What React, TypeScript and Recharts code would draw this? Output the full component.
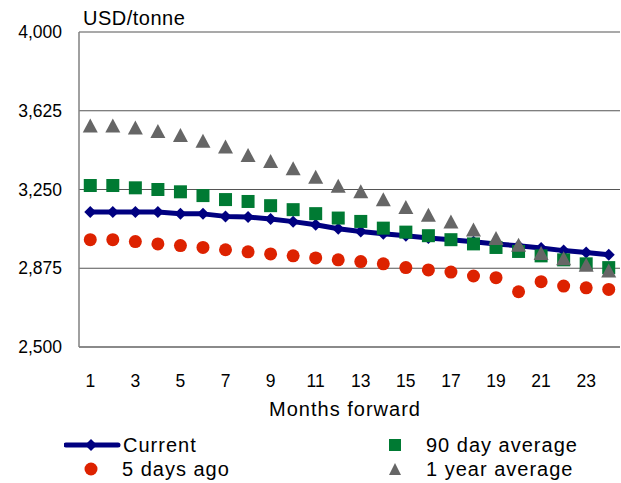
import { CartesianGrid, ComposedChart, Line, XAxis, YAxis } from "recharts";

const months = [1, 2, 3, 4, 5, 6, 7, 8, 9, 10, 11, 12, 13, 14, 15, 16, 17, 18, 19, 20, 21, 22, 23, 24];
const current = [3143, 3143, 3143, 3143, 3134, 3134, 3122, 3119, 3110, 3097, 3082, 3063, 3050, 3039, 3030, 3019, 3011, 3001, 2991, 2982, 2971, 2959, 2950, 2939];
const fiveDaysAgo = [3011, 3011, 3002, 2991, 2983, 2974, 2963, 2953, 2943, 2934, 2924, 2915, 2907, 2896, 2878, 2867, 2857, 2838, 2830, 2763, 2811, 2790, 2782, 2774];
const ninetyDayAvg = [3269, 3269, 3258, 3250, 3239, 3221, 3202, 3193, 3173, 3154, 3135, 3114, 3098, 3066, 3047, 3030, 3011, 2991, 2974, 2955, 2934, 2915, 2896, 2878];
const oneYearAvg = [3550, 3550, 3541, 3524, 3505, 3477, 3450, 3410, 3381, 3346, 3306, 3263, 3237, 3199, 3162, 3125, 3093, 3055, 3014, 2982, 2943, 2918, 2887, 2859];
const yTicks = [2500, 2875, 3250, 3625, 4000];

const NAVY = "#000080";
const RED = "#dd2200";
const GREEN = "#007a33";
const GRAY = "#666666";
const FONT = "'Liberation Sans', Arial, sans-serif";

const data = months.map((month, i) => ({
  month,
  current: current[i],
  fiveDays: fiveDaysAgo[i],
  ninety: ninetyDayAvg[i],
  year: oneYearAvg[i],
}));

const Diamond = ({ cx, cy }: any) => (
  <polygon points={`${cx},${cy - 6} ${cx + 6},${cy} ${cx},${cy + 6} ${cx - 6},${cy}`} fill={NAVY} />
);
const Circle = ({ cx, cy }: any) => <circle cx={cx} cy={cy} r={6.5} fill={RED} />;
const Square = ({ cx, cy }: any) => <rect x={cx - 6.5} y={cy - 6.5} width={13} height={13} fill={GREEN} />;
const Triangle = ({ cx, cy }: any) => (
  <polygon points={`${cx},${cy - 8} ${cx + 7.5},${cy + 6} ${cx - 7.5},${cy + 6}`} fill={GRAY} />
);

const dotOf = (Shape: any) => (props: any) => <Shape key={props.key ?? props.index} cx={props.cx} cy={props.cy} />;

const fmt = (v: number) => v.toLocaleString("en-US");

const tickStyle = { fill: "#000", fontSize: 17.5, fontFamily: FONT };

function LegendRow({ top, left, icon, label }: { top: number; left: number; icon: React.ReactNode; label: string }) {
  return (
    <div style={{ position: "absolute", top, left, height: 22, display: "flex", alignItems: "center", fontSize: 20, letterSpacing: 1 }}>
      {icon}
      <span>{label}</span>
    </div>
  );
}

export default function App() {
  return (
    <div style={{ position: "absolute", left: 0, top: 0, width: 621, height: 483, fontFamily: FONT, color: "#000" }}>
      <ComposedChart width={621} height={483} data={data} margin={{ top: 32, right: 1, bottom: 106, left: 0 }}>
        <CartesianGrid vertical={false} stroke="#555" strokeWidth={1.2} />
        <XAxis
          dataKey="month"
          scale="band"
          interval={1}
          tickLine={false}
          axisLine={{ stroke: "#808080", strokeWidth: 1.5 }}
          tick={tickStyle}
          tickMargin={22}
          height={30}
        />
        <YAxis
          domain={[2500, 4000]}
          ticks={yTicks}
          tickFormatter={fmt}
          tickLine={false}
          axisLine={{ stroke: "#808080", strokeWidth: 1.5 }}
          tick={tickStyle}
          tickMargin={11}
          width={79}
        />
        <text x={83} y={25} fontSize={20} letterSpacing={0.5} fontFamily={FONT} fill="#000">USD/tonne</text>
        <text x={345} y={416} fontSize={20} letterSpacing={1} textAnchor="middle" fontFamily={FONT} fill="#000">Months forward</text>
        <Line dataKey="current" stroke={NAVY} strokeWidth={5} strokeLinejoin="round" dot={dotOf(Diamond)} activeDot={false} isAnimationActive={false} />
        <Line dataKey="fiveDays" stroke="none" dot={dotOf(Circle)} activeDot={false} isAnimationActive={false} />
        <Line dataKey="ninety" stroke="none" dot={dotOf(Square)} activeDot={false} isAnimationActive={false} />
        <Line dataKey="year" stroke="none" dot={dotOf(Triangle)} activeDot={false} isAnimationActive={false} />
      </ComposedChart>
      <LegendRow
        top={434}
        left={64}
        label="Current"
        icon={
          <svg width={59} height={14}>
            <line x1={2} y1={7} x2={54} y2={7} stroke={NAVY} strokeWidth={5} strokeLinecap="round" />
            <polygon points="27,1 33,7 27,13 21,7" fill={NAVY} />
          </svg>
        }
      />
      <LegendRow
        top={458}
        left={84}
        label="5 days ago"
        icon={
          <svg width={38} height={14}>
            <circle cx={7} cy={7} r={6.5} fill={RED} />
          </svg>
        }
      />
      <LegendRow
        top={434}
        left={388}
        label="90 day average"
        icon={
          <svg width={38} height={14}>
            <rect x={1} y={1} width={12} height={12} fill={GREEN} />
          </svg>
        }
      />
      <LegendRow
        top={458}
        left={388}
        label="1 year average"
        icon={
          <svg width={38} height={14}>
            <polygon points="7,1 13,13 1,13" fill={GRAY} />
          </svg>
        }
      />
    </div>
  );
}
